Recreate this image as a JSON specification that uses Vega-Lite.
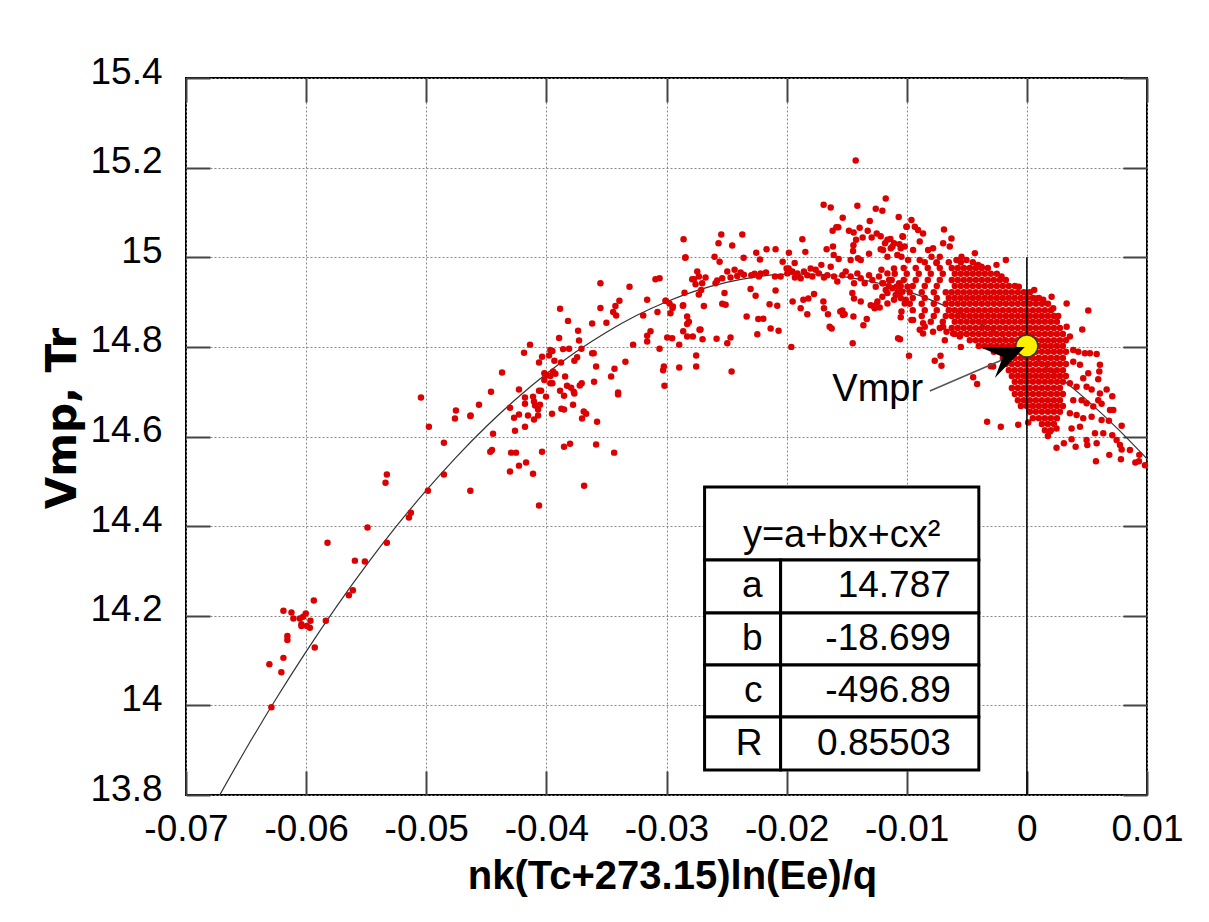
{
"$schema":"https://vega.github.io/schema/vega-lite/v6.json",
"width":961,"height":717,
"autosize":{"type":"none"},
"padding":{"left":186,"top":78,"right":62,"bottom":127},
"background":"white",
"config":{"font":"Liberation Sans","view":{"stroke":"black","strokeWidth":2}},
"resolve":{"axis":{"x":"independent","y":"independent"}},
"datasets":{
"curve":[{"x":-0.0675,"y":13.7852},{"x":-0.065,"y":13.9031},{"x":-0.0625,"y":14.0147},{"x":-0.06,"y":14.1201},{"x":-0.0575,"y":14.2194},{"x":-0.055,"y":14.3124},{"x":-0.0525,"y":14.3992},{"x":-0.05,"y":14.4797},{"x":-0.0475,"y":14.5541},{"x":-0.045,"y":14.6223},{"x":-0.0425,"y":14.6842},{"x":-0.04,"y":14.7399},{"x":-0.0375,"y":14.7895},{"x":-0.035,"y":14.8328},{"x":-0.0325,"y":14.8699},{"x":-0.03,"y":14.9008},{"x":-0.0275,"y":14.9255},{"x":-0.025,"y":14.9439},{"x":-0.0225,"y":14.9562},{"x":-0.02,"y":14.9622},{"x":-0.0175,"y":14.9621},{"x":-0.015,"y":14.9557},{"x":-0.0125,"y":14.9431},{"x":-0.01,"y":14.9243},{"x":-0.0075,"y":14.8993},{"x":-0.005,"y":14.8681},{"x":-0.0025,"y":14.8306},{"x":0,"y":14.787},{"x":0.0025,"y":14.7372},{"x":0.005,"y":14.6811},{"x":0.0075,"y":14.6188},{"x":0.01,"y":14.5503}],
"pts":[
{"x":-0.05044,"y":14.687},{"x":-0.04753,"y":14.658},{"x":-0.04761,"y":14.64},{"x":-0.04633,"y":14.646},{"x":-0.04978,"y":14.622},{"x":-0.04853,"y":14.586},{"x":-0.05328,"y":14.515},{"x":-0.05339,"y":14.497},{"x":-0.04853,"y":14.515},{"x":-0.04986,"y":14.479},{"x":-0.04633,"y":14.479},{"x":-0.05128,"y":14.43},{"x":-0.05144,"y":14.419},{"x":-0.05489,"y":14.397},{"x":-0.05328,"y":14.363},{"x":-0.05822,"y":14.363},{"x":-0.05594,"y":14.323},{"x":-0.05511,"y":14.321},{"x":-0.05611,"y":14.257},{"x":-0.05644,"y":14.246},{"x":-0.05936,"y":14.234},{"x":-0.06189,"y":14.211},{"x":-0.06122,"y":14.207},{"x":-0.06003,"y":14.205},{"x":-0.06106,"y":14.194},{"x":-0.06053,"y":14.194},{"x":-0.06025,"y":14.198},{"x":-0.05964,"y":14.189},{"x":-0.05836,"y":14.189},{"x":-0.06039,"y":14.181},{"x":-0.06039,"y":14.177},{"x":-0.05994,"y":14.177},{"x":-0.05969,"y":14.173},{"x":-0.06156,"y":14.155},{"x":-0.06156,"y":14.146},{"x":-0.05928,"y":14.129},{"x":-0.06189,"y":14.106},{"x":-0.06306,"y":14.092},{"x":-0.06206,"y":14.074},{"x":-0.06289,"y":13.996},
{"x":-0.02842,"y":15.0},{"x":-0.02744,"y":14.968},{"x":-0.02786,"y":14.951},{"x":-0.02731,"y":14.957},{"x":-0.02758,"y":14.94},{"x":-0.03092,"y":14.951},{"x":-0.03058,"y":14.953},{"x":-0.0355,"y":14.942},{"x":-0.03308,"y":14.934},{"x":-0.0285,"y":14.921},{"x":-0.02731,"y":14.917},{"x":-0.03392,"y":14.903},{"x":-0.03161,"y":14.905},{"x":-0.03006,"y":14.903},{"x":-0.02975,"y":14.897},{"x":-0.02864,"y":14.892},{"x":-0.0295,"y":14.887},{"x":-0.0355,"y":14.887},{"x":-0.03425,"y":14.891},{"x":-0.03444,"y":14.878},{"x":-0.03419,"y":14.87},{"x":-0.03075,"y":14.878},{"x":-0.02967,"y":14.875},{"x":-0.03194,"y":14.87},{"x":-0.03886,"y":14.885},{"x":-0.035,"y":14.854},{"x":-0.03619,"y":14.852},{"x":-0.0382,"y":14.858},{"x":-0.02828,"y":14.868},{"x":-0.02814,"y":14.856},{"x":-0.02828,"y":14.851},{"x":-0.02861,"y":14.835},{"x":-0.02828,"y":14.823},{"x":-0.02781,"y":14.823},{"x":-0.02725,"y":14.838},{"x":-0.03133,"y":14.835},{"x":-0.03161,"y":14.825},{"x":-0.03161,"y":14.812},{"x":-0.02994,"y":14.821},{"x":-0.02953,"y":14.819},{"x":-0.02894,"y":14.805},{"x":-0.03278,"y":14.805},{"x":-0.03058,"y":14.796},{"x":-0.03736,"y":14.836},{"x":-0.03728,"y":14.814},{"x":-0.03894,"y":14.82},{"x":-0.04136,"y":14.805},{"x":-0.04186,"y":14.787},{"x":-0.03967,"y":14.793},{"x":-0.0395,"y":14.791},{"x":-0.03861,"y":14.795},{"x":-0.03811,"y":14.796},{"x":-0.03708,"y":14.796},{"x":-0.04036,"y":14.778},{"x":-0.03978,"y":14.781},{"x":-0.03933,"y":14.769},{"x":-0.04061,"y":14.765},{"x":-0.03878,"y":14.765},{"x":-0.03744,"y":14.777},{"x":-0.03767,"y":14.769},{"x":-0.03619,"y":14.786},{"x":-0.03606,"y":14.786},{"x":-0.03586,"y":14.756},{"x":-0.03433,"y":14.751},{"x":-0.03342,"y":14.767},{"x":-0.03022,"y":14.756},{"x":-0.03028,"y":14.748},{"x":-0.02894,"y":14.754},{"x":-0.02753,"y":14.756},{"x":-0.02753,"y":14.781},{"x":-0.04369,"y":14.743},{"x":-0.04017,"y":14.741},{"x":-0.03994,"y":14.737},{"x":-0.03967,"y":14.735},{"x":-0.03944,"y":14.745},{"x":-0.03925,"y":14.74},{"x":-0.04017,"y":14.726},{"x":-0.03967,"y":14.719},{"x":-0.0395,"y":14.719},{"x":-0.03844,"y":14.734},{"x":-0.03828,"y":14.713},{"x":-0.03794,"y":14.709},{"x":-0.03772,"y":14.7},{"x":-0.03767,"y":14.696},{"x":-0.03722,"y":14.714},{"x":-0.03706,"y":14.719},{"x":-0.03603,"y":14.722},{"x":-0.03886,"y":14.702},{"x":-0.03853,"y":14.691},{"x":-0.03403,"y":14.698},{"x":-0.03403,"y":14.694},{"x":-0.03461,"y":14.734},{"x":-0.04228,"y":14.705},{"x":-0.04461,"y":14.7},{"x":-0.04061,"y":14.702},{"x":-0.04044,"y":14.702},{"x":-0.04111,"y":14.689},{"x":-0.04178,"y":14.687},{"x":-0.04003,"y":14.689},{"x":-0.04103,"y":14.678},{"x":-0.04178,"y":14.673},{"x":-0.04053,"y":14.671},{"x":-0.04094,"y":14.669},{"x":-0.04303,"y":14.664},{"x":-0.04561,"y":14.671},{"x":-0.04069,"y":14.66},{"x":-0.03778,"y":14.671},{"x":-0.03875,"y":14.662},{"x":-0.03853,"y":14.66},{"x":-0.04228,"y":14.649},{"x":-0.04269,"y":14.642},{"x":-0.04153,"y":14.647},{"x":-0.04069,"y":14.647},{"x":-0.04103,"y":14.638},{"x":-0.03953,"y":14.651},{"x":-0.03689,"y":14.656},{"x":-0.03669,"y":14.651},{"x":-0.03703,"y":14.64},{"x":-0.03578,"y":14.633},{"x":-0.04631,"y":14.647},{"x":-0.04178,"y":14.622},{"x":-0.04261,"y":14.613},{"x":-0.04444,"y":14.606},{"x":-0.04467,"y":14.566},{"x":-0.04453,"y":14.57},{"x":-0.04294,"y":14.564},{"x":-0.04253,"y":14.564},{"x":-0.04036,"y":14.566},{"x":-0.03853,"y":14.577},{"x":-0.03803,"y":14.584},{"x":-0.03586,"y":14.582},{"x":-0.03436,"y":14.564},{"x":-0.04169,"y":14.542},{"x":-0.04228,"y":14.535},{"x":-0.04303,"y":14.522},{"x":-0.04111,"y":14.517},{"x":-0.03686,"y":14.49},{"x":-0.04061,"y":14.446},
{"x":-0.01425,"y":15.216},{"x":-0.01692,"y":15.117},{"x":-0.01633,"y":15.111},{"x":-0.01411,"y":15.115},{"x":-0.01175,"y":15.131},{"x":-0.01258,"y":15.108},{"x":-0.01203,"y":15.104},{"x":-0.01067,"y":15.09},{"x":-0.01533,"y":15.088},{"x":-0.01308,"y":15.081},{"x":-0.01586,"y":15.067},{"x":-0.0157,"y":15.067},{"x":-0.01617,"y":15.059},{"x":-0.01481,"y":15.059},{"x":-0.01442,"y":15.055},{"x":-0.01392,"y":15.066},{"x":-0.01325,"y":15.059},{"x":-0.0125,"y":15.053},{"x":-0.01217,"y":15.047},{"x":-0.01367,"y":15.044},{"x":-0.01422,"y":15.039},{"x":-0.01292,"y":15.044},{"x":-0.01136,"y":15.041},{"x":-0.01036,"y":15.047},{"x":-0.01,"y":15.068},{"x":-0.01106,"y":15.031},{"x":-0.01061,"y":15.029},{"x":-0.01181,"y":15.031},{"x":-0.01217,"y":15.018},{"x":-0.01133,"y":15.02},{"x":-0.01444,"y":15.027},{"x":-0.01447,"y":15.014},{"x":-0.01614,"y":15.024},{"x":-0.01667,"y":15.018},{"x":-0.01383,"y":14.994},{"x":-0.01406,"y":14.998},{"x":-0.01467,"y":14.994},{"x":-0.01314,"y":15.008},{"x":-0.01161,"y":15.001},{"x":-0.01078,"y":15.005},{"x":-0.0105,"y":15.02},{"x":-0.01567,"y":14.996},{"x":-0.01608,"y":15.005},{"x":-0.01869,"y":15.04},{"x":-0.01844,"y":15.012},{"x":-0.01981,"y":15.01},{"x":-0.02092,"y":15.018},{"x":-0.02167,"y":15.018},{"x":-0.02253,"y":15.01},{"x":-0.02222,"y":14.995},{"x":-0.02358,"y":14.999},{"x":-0.02369,"y":15.051},{"x":-0.02453,"y":15.026},{"x":-0.02544,"y":15.051},{"x":-0.02567,"y":15.031},{"x":-0.026,"y":15.001},{"x":-0.02558,"y":14.99},{"x":-0.02858,"y":15.04},{"x":-0.02844,"y":14.999},{"x":-0.02033,"y":14.99},{"x":-0.01933,"y":14.987},{"x":-0.01983,"y":14.975},
{"x":-0.02703,"y":14.942},{"x":-0.02675,"y":14.955},{"x":-0.02772,"y":14.951},{"x":-0.02592,"y":14.942},{"x":-0.02578,"y":14.948},{"x":-0.02536,"y":14.953},{"x":-0.02494,"y":14.968},{"x":-0.02467,"y":14.955},{"x":-0.02433,"y":14.972},{"x":-0.02411,"y":14.958},{"x":-0.02383,"y":14.966},{"x":-0.02356,"y":14.961},{"x":-0.02294,"y":14.96},{"x":-0.02267,"y":14.963},{"x":-0.02231,"y":14.957},{"x":-0.02217,"y":14.964},{"x":-0.02172,"y":14.966},{"x":-0.02097,"y":14.957},{"x":-0.0205,"y":14.957},{"x":-0.02,"y":14.975},{"x":-0.01994,"y":14.964},{"x":-0.01953,"y":14.968},{"x":-0.01931,"y":14.955},{"x":-0.01911,"y":14.964},{"x":-0.01883,"y":14.953},{"x":-0.01856,"y":14.968},{"x":-0.01828,"y":14.96},{"x":-0.018,"y":14.975},{"x":-0.01786,"y":14.957},{"x":-0.01758,"y":14.972},{"x":-0.01731,"y":14.964},{"x":-0.01711,"y":14.983},{"x":-0.01689,"y":14.955},{"x":-0.01661,"y":14.96},{"x":-0.01633,"y":14.979},{"x":-0.01606,"y":14.957},{"x":-0.01578,"y":14.946},{"x":-0.01536,"y":14.96},{"x":-0.01508,"y":14.968},{"x":-0.01467,"y":14.957},{"x":-0.01439,"y":14.942},{"x":-0.01411,"y":14.964},{"x":-0.01383,"y":14.953},{"x":-0.0135,"y":14.942},{"x":-0.01314,"y":14.96},{"x":-0.01286,"y":14.949},{"x":-0.01258,"y":14.934},{"x":-0.01231,"y":14.957},{"x":-0.01203,"y":14.942},{"x":-0.01175,"y":14.927},{"x":-0.01147,"y":14.949},{"x":-0.01119,"y":14.931},{"x":-0.01092,"y":14.916},{"x":-0.01064,"y":14.942},{"x":-0.01036,"y":14.923},{"x":-0.01008,"y":14.905},{"x":-0.00994,"y":14.934},
{"x":-0.03008,"y":14.903},{"x":-0.02947,"y":14.89},{"x":-0.02861,"y":14.893},{"x":-0.02717,"y":14.839},{"x":-0.027,"y":14.817},{"x":-0.02689,"y":14.891},{"x":-0.02711,"y":14.927},{"x":-0.02536,"y":14.896},{"x":-0.02517,"y":14.92},{"x":-0.02508,"y":14.894},{"x":-0.02583,"y":14.818},{"x":-0.02467,"y":14.821},{"x":-0.02494,"y":14.808},{"x":-0.02333,"y":14.868},{"x":-0.02244,"y":14.828},{"x":-0.02236,"y":14.862},{"x":-0.02194,"y":14.863},{"x":-0.02133,"y":14.841},{"x":-0.02067,"y":14.836},{"x":-0.02142,"y":14.895},{"x":-0.02078,"y":14.892},{"x":-0.02092,"y":14.926},{"x":-0.023,"y":14.929},{"x":-0.02258,"y":14.914},{"x":-0.01961,"y":14.8},{"x":-0.0195,"y":14.901},{"x":-0.01883,"y":14.886},{"x":-0.01861,"y":14.905},{"x":-0.01819,"y":14.908},{"x":-0.01828,"y":14.873},{"x":-0.01772,"y":14.918},{"x":-0.01694,"y":14.901},{"x":-0.01689,"y":14.886},{"x":-0.01656,"y":14.873},{"x":-0.01625,"y":14.841},{"x":-0.01536,"y":14.881},{"x":-0.01517,"y":14.873},{"x":-0.01444,"y":14.868},{"x":-0.0145,"y":14.808},{"x":-0.01361,"y":14.848},{"x":-0.01333,"y":14.862},{"x":-0.013,"y":14.893},{"x":-0.01272,"y":14.89},{"x":-0.01244,"y":14.901},{"x":-0.01203,"y":14.912},{"x":-0.01161,"y":14.897},{"x":-0.01056,"y":14.817},{"x":-0.0105,"y":14.866},{"x":-0.01439,"y":14.908},{"x":-0.01383,"y":14.901},{"x":-0.01453,"y":14.92},{"x":-0.02458,"y":14.745},{"x":-0.03017,"y":14.713},
{"x":0.00061,"y":14.927},{"x":-0.00067,"y":14.934},{"x":0.00081,"y":14.908},{"x":0.00136,"y":14.905},{"x":0.00206,"y":14.912},{"x":0.00219,"y":14.886},{"x":0.00261,"y":14.869},{"x":0.00331,"y":14.897},{"x":0.00511,"y":14.881},{"x":0.00461,"y":14.839},{"x":0.00358,"y":14.823},{"x":0.00331,"y":14.845},{"x":0.00386,"y":14.793},{"x":0.00428,"y":14.789},{"x":0.00483,"y":14.786},{"x":0.00525,"y":14.786},{"x":0.00581,"y":14.784},{"x":0.00386,"y":14.767},{"x":0.00442,"y":14.76},{"x":0.00608,"y":14.76},{"x":0.00603,"y":14.745},{"x":0.00511,"y":14.741},{"x":0.00469,"y":14.73},{"x":0.00594,"y":14.728},{"x":0.00358,"y":14.719},{"x":0.00414,"y":14.711},{"x":0.00497,"y":14.711},{"x":0.00539,"y":14.705},{"x":0.00664,"y":14.705},{"x":0.00608,"y":14.696},{"x":0.00711,"y":14.69},{"x":0.00386,"y":14.681},{"x":0.00456,"y":14.681},{"x":0.00497,"y":14.674},{"x":0.00553,"y":14.667},{"x":0.00622,"y":14.673},{"x":0.00692,"y":14.659},{"x":0.00358,"y":14.652},{"x":0.00414,"y":14.648},{"x":0.00469,"y":14.641},{"x":0.00539,"y":14.644},{"x":0.00622,"y":14.637},{"x":0.00683,"y":14.635},{"x":0.00789,"y":14.624},{"x":0.00442,"y":14.622},{"x":0.00372,"y":14.618},{"x":0.00247,"y":14.618},{"x":0.00192,"y":14.611},{"x":0.00567,"y":14.607},{"x":0.00636,"y":14.607},{"x":0.00711,"y":14.603},{"x":0.00372,"y":14.594},{"x":0.00308,"y":14.585},{"x":0.00247,"y":14.575},{"x":0.00406,"y":14.577},{"x":0.00503,"y":14.581},{"x":0.00581,"y":14.585},{"x":0.00686,"y":14.559},{"x":0.00775,"y":14.581},{"x":0.00789,"y":14.571},{"x":0.00783,"y":14.549},{"x":0.00575,"y":14.545},{"x":0.00936,"y":14.559},{"x":0.00903,"y":14.542},{"x":-0.00331,"y":14.633},{"x":-0.00217,"y":14.622},{"x":-0.00072,"y":14.626},{"x":0.00011,"y":14.631},{"x":-0.00447,"y":14.732},{"x":-0.00414,"y":14.717},{"x":-0.003,"y":14.757},{"x":-0.00281,"y":14.756},{"x":-0.00719,"y":14.78},{"x":-0.00711,"y":14.758},{"x":-0.00767,"y":14.769},{"x":-0.00981,"y":14.78},{"x":-0.0055,"y":14.8},{"x":-0.00558,"y":14.823},{"x":-0.00614,"y":14.83},{"x":-0.00669,"y":14.834},{"x":-0.00781,"y":14.834},{"x":-0.0085,"y":14.845},{"x":-0.00864,"y":14.853},{"x":-0.00961,"y":14.86},{"x":-0.00683,"y":14.815},{"x":-0.00697,"y":14.845},
{"x":-0.00961,"y":15.083},{"x":-0.00933,"y":15.068},{"x":-0.00906,"y":15.061},{"x":-0.00864,"y":15.053},{"x":-0.01003,"y":15.068},{"x":-0.0069,"y":15.062},{"x":-0.00628,"y":15.042},{"x":-0.00697,"y":15.031},{"x":-0.00642,"y":15.024},{"x":-0.00781,"y":15.02},{"x":-0.00822,"y":15.016},{"x":-0.00892,"y":15.035},{"x":-0.00947,"y":15.016},{"x":-0.01017,"y":15.024},{"x":-0.00544,"y":15.001},{"x":-0.00503,"y":14.994},{"x":-0.00586,"y":14.994},{"x":-0.00406,"y":14.983},{"x":-0.00378,"y":14.979},{"x":-0.00253,"y":14.983},{"x":-0.00175,"y":14.994},{"x":-0.00211,"y":14.957},{"x":-0.00433,"y":15.009},{"x":-0.01031,"y":15.046},{"x":-0.01044,"y":15.001},{"x":-0.00989,"y":14.994},{"x":-0.00892,"y":14.994},{"x":-0.00753,"y":14.987},{"x":-0.00725,"y":15.001},{"x":-0.00794,"y":15.001},
{"x":-0.01161,"y":15.039},{"x":-0.01119,"y":15.024},{"x":-0.01197,"y":15.016},{"x":-0.01211,"y":14.972},{"x":-0.01161,"y":14.964},{"x":-0.01106,"y":14.975},{"x":-0.01133,"y":14.949},{"x":-0.01197,"y":14.942},{"x":-0.01086,"y":14.934},{"x":-0.01161,"y":14.92},{"x":-0.01106,"y":14.905},{"x":-0.01058,"y":14.92},{"x":-0.01017,"y":14.897},{"x":-0.01044,"y":14.879},{"x":-0.00947,"y":14.86},{"x":-0.00864,"y":14.83},{"x":-0.01072,"y":14.819},{"x":-0.01642,"y":14.845},{"x":-0.01553,"y":14.879},{"x":-0.01531,"y":14.871},{"x":-0.01253,"y":14.894},{"x":-0.01267,"y":14.886},{"x":-0.01225,"y":14.888},{"x":-0.00892,"y":14.838},{"x":0.00719,"y":14.659},{"x":0.00497,"y":14.592},{"x":0.00747,"y":14.592},{"x":0.00858,"y":14.57},{"x":0.00933,"y":14.545},{"x":0.00983,"y":14.536},{"x":0.00594,"y":14.681},
{"x":-0.0085,"y":14.989},{"x":-0.0075,"y":14.989},{"x":-0.0065,"y":14.989},{"x":-0.0055,"y":14.989},{"x":-0.0045,"y":14.989},
{"x":-0.01025,"y":14.976},{"x":-0.00925,"y":14.976},{"x":-0.00825,"y":14.976},{"x":-0.00725,"y":14.976},{"x":-0.00625,"y":14.976},{"x":-0.00575,"y":14.976},{"x":-0.00525,"y":14.976},{"x":-0.00475,"y":14.976},{"x":-0.00425,"y":14.976},{"x":-0.00375,"y":14.976},{"x":-0.00325,"y":14.976},
{"x":-0.011,"y":14.963},{"x":-0.01,"y":14.963},{"x":-0.009,"y":14.963},{"x":-0.008,"y":14.963},{"x":-0.007,"y":14.963},{"x":-0.006,"y":14.963},{"x":-0.0055,"y":14.963},{"x":-0.005,"y":14.963},{"x":-0.0045,"y":14.963},{"x":-0.004,"y":14.963},{"x":-0.0035,"y":14.963},{"x":-0.003,"y":14.963},{"x":-0.0025,"y":14.963},
{"x":-0.01125,"y":14.949},{"x":-0.01025,"y":14.949},{"x":-0.00925,"y":14.949},{"x":-0.00825,"y":14.949},{"x":-0.00725,"y":14.949},{"x":-0.00625,"y":14.949},{"x":-0.00575,"y":14.949},{"x":-0.00525,"y":14.949},{"x":-0.00475,"y":14.949},{"x":-0.00425,"y":14.949},{"x":-0.00375,"y":14.949},{"x":-0.00325,"y":14.949},{"x":-0.00275,"y":14.949},{"x":-0.00225,"y":14.949},{"x":-0.00175,"y":14.949},
{"x":-0.0115,"y":14.936},{"x":-0.0105,"y":14.936},{"x":-0.0095,"y":14.936},{"x":-0.0085,"y":14.936},{"x":-0.0075,"y":14.936},{"x":-0.006,"y":14.936},{"x":-0.0055,"y":14.936},{"x":-0.005,"y":14.936},{"x":-0.0045,"y":14.936},{"x":-0.004,"y":14.936},{"x":-0.0035,"y":14.936},{"x":-0.003,"y":14.936},{"x":-0.0025,"y":14.936},{"x":-0.002,"y":14.936},{"x":-0.0015,"y":14.936},{"x":-0.001,"y":14.936},
{"x":-0.01075,"y":14.922},{"x":-0.00975,"y":14.922},{"x":-0.00875,"y":14.922},{"x":-0.00775,"y":14.922},{"x":-0.00675,"y":14.922},{"x":-0.00625,"y":14.922},{"x":-0.00575,"y":14.922},{"x":-0.00525,"y":14.922},{"x":-0.00475,"y":14.922},{"x":-0.00425,"y":14.922},{"x":-0.00375,"y":14.922},{"x":-0.00325,"y":14.922},{"x":-0.00275,"y":14.922},{"x":-0.00225,"y":14.922},{"x":-0.00175,"y":14.922},{"x":-0.00125,"y":14.922},{"x":-0.00075,"y":14.922},{"x":-0.00025,"y":14.922},{"x":0.00025,"y":14.922},
{"x":-0.0105,"y":14.909},{"x":-0.0095,"y":14.909},{"x":-0.0085,"y":14.909},{"x":-0.0075,"y":14.909},{"x":-0.0065,"y":14.909},{"x":-0.006,"y":14.909},{"x":-0.0055,"y":14.909},{"x":-0.005,"y":14.909},{"x":-0.0045,"y":14.909},{"x":-0.004,"y":14.909},{"x":-0.0035,"y":14.909},{"x":-0.003,"y":14.909},{"x":-0.0025,"y":14.909},{"x":-0.002,"y":14.909},{"x":-0.0015,"y":14.909},{"x":-0.001,"y":14.909},{"x":-0.0005,"y":14.909},{"x":0,"y":14.909},{"x":0.0005,"y":14.909},{"x":0.001,"y":14.909},
{"x":-0.00975,"y":14.896},{"x":-0.00875,"y":14.896},{"x":-0.00775,"y":14.896},{"x":-0.00675,"y":14.896},{"x":-0.00625,"y":14.896},{"x":-0.00575,"y":14.896},{"x":-0.00525,"y":14.896},{"x":-0.00475,"y":14.896},{"x":-0.00425,"y":14.896},{"x":-0.00375,"y":14.896},{"x":-0.00325,"y":14.896},{"x":-0.00275,"y":14.896},{"x":-0.00225,"y":14.896},{"x":-0.00175,"y":14.896},{"x":-0.00125,"y":14.896},{"x":-0.00075,"y":14.896},{"x":-0.00025,"y":14.896},{"x":0.00025,"y":14.896},{"x":0.00075,"y":14.896},{"x":0.00125,"y":14.896},{"x":0.00175,"y":14.896},
{"x":-0.0095,"y":14.882},{"x":-0.0085,"y":14.882},{"x":-0.0075,"y":14.882},{"x":-0.0065,"y":14.882},{"x":-0.006,"y":14.882},{"x":-0.0055,"y":14.882},{"x":-0.005,"y":14.882},{"x":-0.0045,"y":14.882},{"x":-0.004,"y":14.882},{"x":-0.0035,"y":14.882},{"x":-0.003,"y":14.882},{"x":-0.0025,"y":14.882},{"x":-0.002,"y":14.882},{"x":-0.0015,"y":14.882},{"x":-0.001,"y":14.882},{"x":-0.0005,"y":14.882},{"x":0,"y":14.882},{"x":0.0005,"y":14.882},{"x":0.001,"y":14.882},{"x":0.0015,"y":14.882},{"x":0.002,"y":14.882},
{"x":-0.00875,"y":14.869},{"x":-0.00775,"y":14.869},{"x":-0.00675,"y":14.869},{"x":-0.00625,"y":14.869},{"x":-0.00575,"y":14.869},{"x":-0.00525,"y":14.869},{"x":-0.00475,"y":14.869},{"x":-0.00425,"y":14.869},{"x":-0.00375,"y":14.869},{"x":-0.00325,"y":14.869},{"x":-0.00275,"y":14.869},{"x":-0.00225,"y":14.869},{"x":-0.00175,"y":14.869},{"x":-0.00125,"y":14.869},{"x":-0.00075,"y":14.869},{"x":-0.00025,"y":14.869},{"x":0.00025,"y":14.869},{"x":0.00075,"y":14.869},{"x":0.00125,"y":14.869},{"x":0.00175,"y":14.869},{"x":0.00225,"y":14.869},
{"x":-0.008,"y":14.856},{"x":-0.007,"y":14.856},{"x":-0.006,"y":14.856},{"x":-0.0055,"y":14.856},{"x":-0.005,"y":14.856},{"x":-0.0045,"y":14.856},{"x":-0.004,"y":14.856},{"x":-0.0035,"y":14.856},{"x":-0.003,"y":14.856},{"x":-0.0025,"y":14.856},{"x":-0.002,"y":14.856},{"x":-0.0015,"y":14.856},{"x":-0.001,"y":14.856},{"x":-0.0005,"y":14.856},{"x":0,"y":14.856},{"x":0.0005,"y":14.856},{"x":0.001,"y":14.856},{"x":0.0015,"y":14.856},{"x":0.002,"y":14.856},{"x":0.0025,"y":14.856},
{"x":-0.00725,"y":14.842},{"x":-0.00625,"y":14.842},{"x":-0.00575,"y":14.842},{"x":-0.00525,"y":14.842},{"x":-0.00475,"y":14.842},{"x":-0.00425,"y":14.842},{"x":-0.00375,"y":14.842},{"x":-0.00325,"y":14.842},{"x":-0.00275,"y":14.842},{"x":-0.00225,"y":14.842},{"x":-0.00175,"y":14.842},{"x":-0.00125,"y":14.842},{"x":-0.00075,"y":14.842},{"x":-0.00025,"y":14.842},{"x":0.00025,"y":14.842},{"x":0.00075,"y":14.842},{"x":0.00125,"y":14.842},{"x":0.00175,"y":14.842},{"x":0.00225,"y":14.842},{"x":0.00275,"y":14.842},
{"x":-0.006,"y":14.829},{"x":-0.0055,"y":14.829},{"x":-0.005,"y":14.829},{"x":-0.0045,"y":14.829},{"x":-0.004,"y":14.829},{"x":-0.0035,"y":14.829},{"x":-0.003,"y":14.829},{"x":-0.0025,"y":14.829},{"x":-0.002,"y":14.829},{"x":-0.0015,"y":14.829},{"x":-0.001,"y":14.829},{"x":-0.0005,"y":14.829},{"x":0,"y":14.829},{"x":0.0005,"y":14.829},{"x":0.001,"y":14.829},{"x":0.0015,"y":14.829},{"x":0.002,"y":14.829},{"x":0.0025,"y":14.829},{"x":0.003,"y":14.829},
{"x":-0.00475,"y":14.815},{"x":-0.00425,"y":14.815},{"x":-0.00375,"y":14.815},{"x":-0.00325,"y":14.815},{"x":-0.00275,"y":14.815},{"x":-0.00225,"y":14.815},{"x":-0.00175,"y":14.815},{"x":-0.00125,"y":14.815},{"x":-0.00075,"y":14.815},{"x":-0.00025,"y":14.815},{"x":0.00025,"y":14.815},{"x":0.00075,"y":14.815},{"x":0.00125,"y":14.815},{"x":0.00175,"y":14.815},{"x":0.00225,"y":14.815},{"x":0.00275,"y":14.815},{"x":0.00325,"y":14.815},
{"x":-0.004,"y":14.802},{"x":-0.0035,"y":14.802},{"x":-0.003,"y":14.802},{"x":-0.0025,"y":14.802},{"x":-0.002,"y":14.802},{"x":-0.0015,"y":14.802},{"x":-0.001,"y":14.802},{"x":-0.0005,"y":14.802},{"x":0,"y":14.802},{"x":0.0005,"y":14.802},{"x":0.001,"y":14.802},{"x":0.0015,"y":14.802},{"x":0.002,"y":14.802},{"x":0.0025,"y":14.802},{"x":0.003,"y":14.802},
{"x":-0.00275,"y":14.789},{"x":-0.00225,"y":14.789},{"x":-0.00175,"y":14.789},{"x":-0.00125,"y":14.789},{"x":-0.00075,"y":14.789},{"x":-0.00025,"y":14.789},{"x":0.00025,"y":14.789},{"x":0.00075,"y":14.789},{"x":0.00125,"y":14.789},{"x":0.00175,"y":14.789},{"x":0.00225,"y":14.789},{"x":0.00275,"y":14.789},{"x":0.00325,"y":14.789},
{"x":-0.002,"y":14.775},{"x":-0.0015,"y":14.775},{"x":-0.001,"y":14.775},{"x":-0.0005,"y":14.775},{"x":0,"y":14.775},{"x":0.0005,"y":14.775},{"x":0.001,"y":14.775},{"x":0.0015,"y":14.775},{"x":0.002,"y":14.775},{"x":0.0025,"y":14.775},{"x":0.003,"y":14.775},
{"x":-0.00175,"y":14.762},{"x":-0.00125,"y":14.762},{"x":-0.00075,"y":14.762},{"x":-0.00025,"y":14.762},{"x":0.00025,"y":14.762},{"x":0.00075,"y":14.762},{"x":0.00125,"y":14.762},{"x":0.00175,"y":14.762},{"x":0.00225,"y":14.762},{"x":0.00275,"y":14.762},{"x":0.00325,"y":14.762},
{"x":-0.0015,"y":14.748},{"x":-0.001,"y":14.748},{"x":-0.0005,"y":14.748},{"x":0,"y":14.748},{"x":0.0005,"y":14.748},{"x":0.001,"y":14.748},{"x":0.0015,"y":14.748},{"x":0.002,"y":14.748},{"x":0.0025,"y":14.748},{"x":0.003,"y":14.748},
{"x":-0.00125,"y":14.735},{"x":-0.00075,"y":14.735},{"x":-0.00025,"y":14.735},{"x":0.00025,"y":14.735},{"x":0.00075,"y":14.735},{"x":0.00125,"y":14.735},{"x":0.00175,"y":14.735},{"x":0.00225,"y":14.735},{"x":0.00275,"y":14.735},{"x":0.00325,"y":14.735},
{"x":-0.001,"y":14.722},{"x":-0.0005,"y":14.722},{"x":0,"y":14.722},{"x":0.0005,"y":14.722},{"x":0.001,"y":14.722},{"x":0.0015,"y":14.722},{"x":0.002,"y":14.722},{"x":0.0025,"y":14.722},{"x":0.003,"y":14.722},
{"x":-0.00125,"y":14.708},{"x":-0.00075,"y":14.708},{"x":-0.00025,"y":14.708},{"x":0.00025,"y":14.708},{"x":0.00075,"y":14.708},{"x":0.00125,"y":14.708},{"x":0.00175,"y":14.708},{"x":0.00225,"y":14.708},{"x":0.00275,"y":14.708},
{"x":-0.001,"y":14.695},{"x":-0.0005,"y":14.695},{"x":0,"y":14.695},{"x":0.0005,"y":14.695},{"x":0.001,"y":14.695},{"x":0.0015,"y":14.695},{"x":0.002,"y":14.695},{"x":0.0025,"y":14.695},{"x":0.003,"y":14.695},
{"x":-0.00075,"y":14.681},{"x":-0.00025,"y":14.681},{"x":0.00025,"y":14.681},{"x":0.00075,"y":14.681},{"x":0.00125,"y":14.681},{"x":0.00175,"y":14.681},{"x":0.00225,"y":14.681},{"x":0.00275,"y":14.681},
{"x":-0.0005,"y":14.668},{"x":0,"y":14.668},{"x":0.0005,"y":14.668},{"x":0.001,"y":14.668},{"x":0.0015,"y":14.668},{"x":0.002,"y":14.668},{"x":0.0025,"y":14.668},{"x":0.003,"y":14.668},
{"x":0.00025,"y":14.655},{"x":0.00075,"y":14.655},{"x":0.00125,"y":14.655},{"x":0.00175,"y":14.655},{"x":0.00225,"y":14.655},{"x":0.00275,"y":14.655},
{"x":0.0005,"y":14.641},{"x":0.001,"y":14.641},{"x":0.0015,"y":14.641},{"x":0.002,"y":14.641},{"x":0.0025,"y":14.641},
{"x":0.00125,"y":14.628},{"x":0.00175,"y":14.628},{"x":0.00225,"y":14.628},{"x":0.0015,"y":14.614},{"x":0.002,"y":14.614},{"x":0.00175,"y":14.601}
],
"cells":[
{"x":-0.02683,"x2":-0.004,"y":14.4873,"y2":14.3244},
{"x":-0.02683,"x2":-0.0205,"y":14.3244,"y2":14.2061},{"x":-0.0205,"x2":-0.004,"y":14.3244,"y2":14.2061},
{"x":-0.02683,"x2":-0.0205,"y":14.2061,"y2":14.0901},{"x":-0.0205,"x2":-0.004,"y":14.2061,"y2":14.0901},
{"x":-0.02683,"x2":-0.0205,"y":14.0901,"y2":13.9741},{"x":-0.0205,"x2":-0.004,"y":14.0901,"y2":13.9741},
{"x":-0.02683,"x2":-0.0205,"y":13.9741,"y2":13.8558},{"x":-0.0205,"x2":-0.004,"y":13.9741,"y2":13.8558}
],
"celltext":[
{"x":-0.022,"y":14.2653,"t":"a"},{"x":-0.00633,"y":14.2653,"t":"14.787"},
{"x":-0.022,"y":14.1481,"t":"b"},{"x":-0.00633,"y":14.1481,"t":"-18.699"},
{"x":-0.022,"y":14.0321,"t":"c"},{"x":-0.00633,"y":14.0321,"t":"-496.89"},
{"x":-0.022,"y":13.9149,"t":"R"},{"x":-0.00633,"y":13.9149,"t":"0.85503"}
]
},
"layer":[
{"data":{"name":"curve"},
 "mark":{"type":"line","color":"#333333","strokeWidth":1.2,"clip":true,"interpolate":"monotone"},
 "encoding":{
  "x":{"field":"x","type":"quantitative","scale":{"domain":[-0.07,0.01],"nice":false,"zero":false},
   "axis":{"orient":"top","values":[-0.07,-0.06,-0.05,-0.04,-0.03,-0.02,-0.01,0,0.01],"labels":false,"grid":false,"domain":false,"tickSize":-24,"tickColor":"#444444","tickWidth":2,"title":null}},
  "y":{"field":"y","type":"quantitative","scale":{"domain":[13.8,15.4],"nice":false,"zero":false},
   "axis":{"orient":"right","values":[13.8,14,14.2,14.4,14.6,14.8,15,15.2,15.4],"labels":false,"grid":false,"domain":false,"tickSize":-24,"tickColor":"#444444","tickWidth":2,"title":null}}
 }},
{"data":{"name":"pts"},
 "mark":{"type":"point","filled":true,"size":42,"color":"#dd0000","opacity":1,"strokeWidth":0},
 "encoding":{
  "x":{"field":"x","type":"quantitative","scale":{"domain":[-0.07,0.01],"nice":false,"zero":false},
   "axis":{"orient":"bottom","values":[-0.07,-0.06,-0.05,-0.04,-0.03,-0.02,-0.01,0,0.01],"labelExpr":"toString(round(datum.value*100)/100)","grid":true,"gridColor":"#888888","gridDash":[2,2],"gridWidth":1,"domain":false,"tickSize":-24,"tickColor":"#444444","tickWidth":2,"labelFontSize":37,"labelColor":"#000000","labelPadding":40,"labelFlush":false,"labelOverlap":false,"title":"nk(Tc+273.15)ln(Ee)/q","titleFontSize":40,"titleFontWeight":"bold","titleColor":"#000000","titleX":486,"titleY":93,"titleBaseline":"alphabetic","titleAlign":"center"}},
  "y":{"field":"y","type":"quantitative","scale":{"domain":[13.8,15.4],"nice":false,"zero":false},
   "axis":{"orient":"left","values":[13.8,14,14.2,14.4,14.6,14.8,15,15.2,15.4],"labelExpr":"toString(round(datum.value*10)/10)","grid":true,"gridColor":"#888888","gridDash":[2,2],"gridWidth":1,"domain":false,"tickSize":-24,"tickColor":"#444444","tickWidth":2,"labelFontSize":37,"labelColor":"#000000","labelPadding":48,"labelOffset":-6,"labelFlush":false,"labelOverlap":false,"title":"Vmp, Tr","titleFont":"DejaVu Sans","titleFontSize":42,"titleFontWeight":"bold","titleColor":"#000000","titleX":-124,"titleY":340,"titleAngle":-90,"titleAlign":"center","titleBaseline":"middle"}}
 }},
{"data":{"values":[{"x":0,"y":15.0,"y2":13.8}]},
 "mark":{"type":"rule","color":"#000000","strokeWidth":1.5},
 "encoding":{"x":{"field":"x","type":"quantitative","axis":null},"y":{"field":"y","type":"quantitative","axis":null},"y2":{"field":"y2"}}},
{"data":{"values":[{"x":0,"y":14.802}]},
 "mark":{"type":"point","filled":true,"size":490,"fill":"#ffee00","stroke":"#333333","strokeWidth":1.5,"opacity":1},
 "encoding":{"x":{"field":"x","type":"quantitative","axis":null},"y":{"field":"y","type":"quantitative","axis":null}}},
{"data":{"values":[{"x":-0.00808,"y":14.7015,"x2":-0.00208,"y2":14.7707}]},
 "mark":{"type":"rule","color":"#555555","strokeWidth":1.5},
 "encoding":{"x":{"field":"x","type":"quantitative","axis":null},"y":{"field":"y","type":"quantitative","axis":null},"x2":{"field":"x2"},"y2":{"field":"y2"}}},
{"data":{"values":[{"x":-0.00017,"y":14.8}]},
 "mark":{"type":"point","shape":"M0,0L-0.9,0L-0.44,0.2L-0.6,0.62Z","size":10000,"filled":true,"fill":"#000000","strokeWidth":0,"opacity":1},
 "encoding":{"x":{"field":"x","type":"quantitative","axis":null},"y":{"field":"y","type":"quantitative","axis":null}}},
{"data":{"values":[{"x":-0.01242,"y":14.6792,"t":"Vmpr"}]},
 "mark":{"type":"text","align":"center","baseline":"alphabetic","fontSize":38,"color":"#000000"},
 "encoding":{"x":{"field":"x","type":"quantitative","axis":null},"y":{"field":"y","type":"quantitative","axis":null},"text":{"field":"t"}}},
{"data":{"name":"cells"},
 "mark":{"type":"rect","fill":"#ffffff","stroke":"#000000","strokeWidth":3},
 "encoding":{"x":{"field":"x","type":"quantitative","axis":null},"x2":{"field":"x2"},"y":{"field":"y","type":"quantitative","axis":null},"y2":{"field":"y2"}}},
{"data":{"name":"celltext"},
 "mark":{"type":"text","align":"right","baseline":"middle","fontSize":37,"color":"#000000"},
 "encoding":{"x":{"field":"x","type":"quantitative","axis":null},"y":{"field":"y","type":"quantitative","axis":null},"text":{"field":"t"}}},
{"data":{"values":[{"x":-0.01542,"y":14.3534,"t":"y=a+bx+cx²"}]},
 "mark":{"type":"text","align":"center","baseline":"alphabetic","fontSize":38,"color":"#000000"},
 "encoding":{"x":{"field":"x","type":"quantitative","axis":null},"y":{"field":"y","type":"quantitative","axis":null},"text":{"field":"t"}}}
]
}
